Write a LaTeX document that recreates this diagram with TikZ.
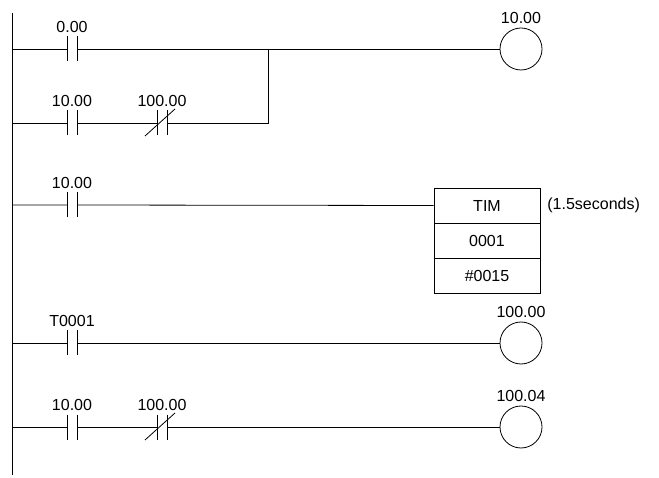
\documentclass[tikz,border=0pt]{standalone}
\usepackage{fontspec}
\setmainfont{Liberation Sans}
\usetikzlibrary{positioning}
\begin{document}
\tikzset{
  lbl/.style={inner sep=0pt,font=\fontsize{16}{18}\selectfont},
  coil/.style={draw,circle,minimum size=42pt,inner sep=0pt},
  cell/.style={draw,minimum width=106pt,minimum height=35pt,inner sep=0pt,font=\fontsize{16}{18}\selectfont}
}
\begin{tikzpicture}[x=1pt,y=-1pt,line width=0.8pt]
	\useasboundingbox (0,0) rectangle (659,478);
	%rail
	\coordinate (railtop) at (12,13);
	\coordinate (railbot) at (12,475);
	\draw (railtop) -- (railbot);
	%contacts: plates
	\foreach \name/\x/\y in {ca/67/49, cb/67/123, cc/67/205, cd/67/343, ce/67/427, nb/157/123, ne/157/427}
	{
		\coordinate (\name l) at (\x,\y);
		\coordinate (\name r) at (\x+10,\y);
		\draw (\x,\y-12.5) -- (\x,\y+12.5) (\x+10,\y-12.5) -- (\x+10,\y+12.5);
	}
	%slashes of the closed contacts
	\foreach \name in {nb, ne}
	\draw ([shift={(-12,13)}]\name l) -- ([shift={(8,-14)}]\name r);
	%labels of contacts
	\node[lbl] at (72,27) {0.00};
	\node[lbl] at (72,101) {10.00};
	\node[lbl] at (162,101) {100.00};
	\node[lbl] at (72,183) {10.00};
	\node[lbl] at (72,321) {T0001};
	\node[lbl] at (72,405) {10.00};
	\node[lbl] at (162,405) {100.00};
	%coils
	\node[coil] (ya) at (521,49) {};
	\node[coil] (yd) at (521,343) {};
	\node[coil] (ye) at (521,427) {};
	\node[lbl,above=4pt of ya] {10.00};
	\node[lbl,above=4pt of yd] {100.00};
	\node[lbl,above=4pt of ye] {100.04};
	%timer
	\node[cell] (tim) at (487,205.5) {TIM};
	\node[cell,below=-0.8pt of tim] (tnum) {0001};
	\node[cell,below=-0.8pt of tnum] (tset) {\#0015};
	\node[lbl,anchor=west] at (547,205) {(1.5seconds)};
	%wires
	\coordinate (join) at (268,49);
	\coordinate (joinb) at (268,123);
	\draw (12,49) -- (cal) (car) -- (ya.west);
	\draw (12,123) -- (cbl) (cbr) -- (nbl) (nbr) -- (joinb) -- (join);
	\draw (12,205) -- (ccl) (ccr) -- (tim.west);
	\draw (12,343) -- (cdl) (cdr) -- (yd.west);
	\draw (12,427) -- (cel) (cer) -- (nel) (ner) -- (ye.west);
\end{tikzpicture}
\end{document}
